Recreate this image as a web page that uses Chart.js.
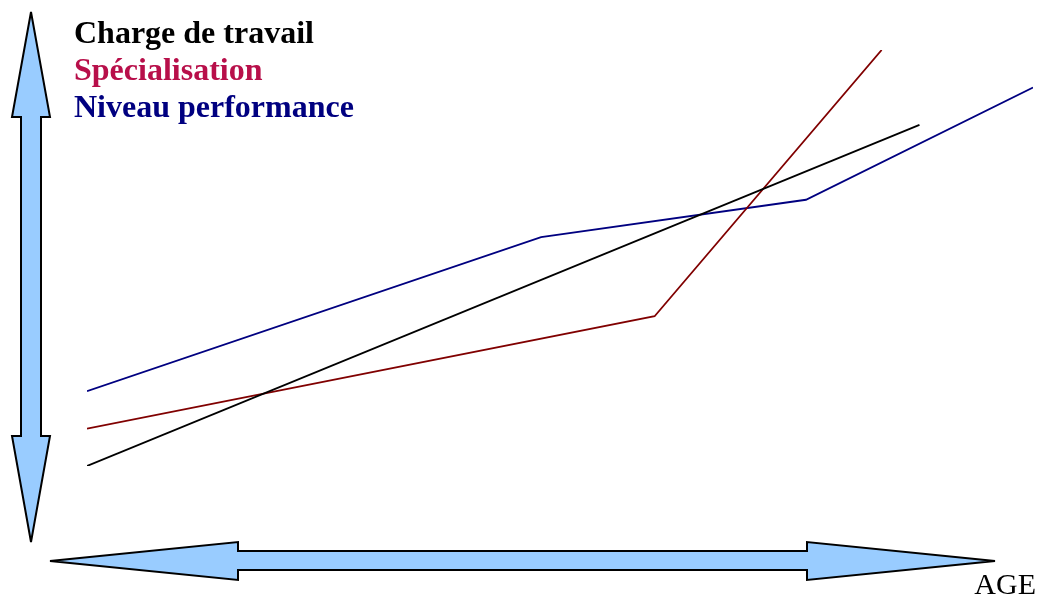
<!DOCTYPE html>
<html>
<head>
<meta charset="utf-8">
<script src="https://cdn.jsdelivr.net/npm/chart.js@4/dist/chart.umd.min.js"></script>
<style>
  body { margin: 0; background: #fff; }
  #wrap { width: 1039px; height: 597px; position: relative; }
</style>
</head>
<body>
<div id="wrap"><canvas id="myChart"></canvas></div>
<script>
// values (x = age, y = level, both 0..100)
var seriesNames = ["Charge de travail", "Spécialisation", "Niveau performance"];
var chargeX = [0, 88];
var chargeY = [0, 82];
var specX = [0, 60, 84];
var specY = [9, 36, 100];
var perfX = [0, 48, 76, 100];
var perfY = [18, 55, 64, 91];
var lineColors = ["#000000", "#800000", "#000080"];
var textColors = ["#000000", "#b80f4a", "#000080"];
var axisLabel = "AGE";

function pts(xs, ys) {
  return xs.map(function(x, i){ return {x: x, y: ys[i]}; });
}

function arrow(ctx, p) {
  ctx.beginPath();
  ctx.moveTo(p[0][0], p[0][1]);
  for (var i = 1; i < p.length; i++) ctx.lineTo(p[i][0], p[i][1]);
  ctx.closePath();
  ctx.fillStyle = "#99ccff";
  ctx.fill();
  ctx.lineWidth = 2;
  ctx.strokeStyle = "#000";
  ctx.lineJoin = "miter";
  ctx.miterLimit = 3;
  ctx.stroke();
}

var decor = {
  id: 'decor',
  beforeDatasetsDraw: function(chart) {
    var ctx = chart.ctx;
    ctx.save();
    // vertical double arrow
    arrow(ctx, [[31,12],[50,117],[41,117],[41,436],[50,436],[31,542],[12,436],[21,436],[21,117],[12,117]]);
    // horizontal double arrow
    arrow(ctx, [[50,561],[238,542],[238,551],[807,551],[807,542],[995,561],[807,580],[807,570],[238,570],[238,580]]);
    // legend text
    ctx.font = "bold 32px 'Liberation Serif', 'Times New Roman', serif";
    ctx.textBaseline = "alphabetic";
    ctx.textAlign = "left";
    seriesNames.forEach(function(n, i){
      ctx.fillStyle = textColors[i];
      ctx.fillText(n, 74, 43 + i * 37);
    });
    ctx.font = "30px 'Liberation Serif', 'Times New Roman', serif";
    ctx.fillStyle = "#000";
    ctx.textAlign = "right";
    ctx.fillText(axisLabel, 1036, 594);
    ctx.restore();
  }
};

var ctx = document.getElementById("myChart").getContext('2d');
var myChart = new Chart(ctx, {
  type: 'line',
  data: {
    datasets: [
      {label: seriesNames[0], data: pts(chargeX, chargeY), borderColor: lineColors[0]},
      {label: seriesNames[1], data: pts(specX, specY), borderColor: lineColors[1]},
      {label: seriesNames[2], data: pts(perfX, perfY), borderColor: lineColors[2]}
    ]
  },
  options: {
    responsive: true,
    maintainAspectRatio: false,
    animation: false,
    layout: { padding: {left: 87, right: 6, top: 50, bottom: 131} },
    elements: {
      line: { borderWidth: 1.8, tension: 0, fill: false },
      point: { radius: 0 }
    },
    plugins: { legend: {display: false}, tooltip: {enabled: false} },
    scales: {
      x: { type: 'linear', min: 0, max: 100, display: false },
      y: { type: 'linear', min: 0, max: 100, display: false }
    }
  },
  plugins: [decor]
});
</script>
</body>
</html>
